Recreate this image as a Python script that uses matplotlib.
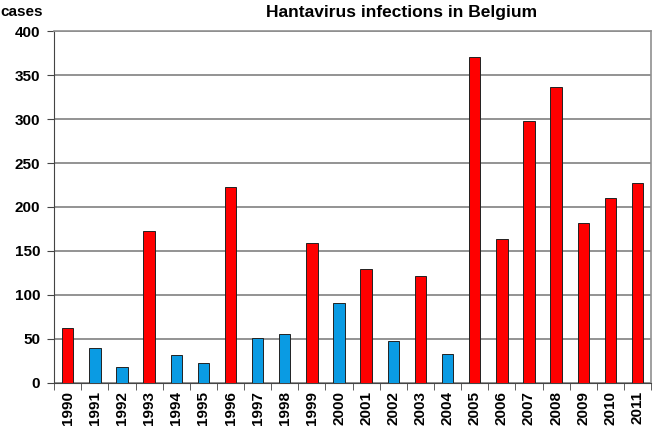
import numpy as np
import matplotlib.pyplot as plt

years = [str(y) for y in range(1990, 2012)]
cases = [62, 40, 18, 173, 32, 22, 223, 51, 55, 159, 91,
         129, 47, 122, 33, 371, 163, 298, 336, 182, 210, 227]
# red = outbreak years, blue = the others
outbreak = [1, 0, 0, 1, 0, 0, 1, 0, 0, 1, 0,
            1, 0, 1, 0, 1, 1, 1, 1, 1, 1, 1]

plt.rcParams['font.family'] = ['Liberation Sans', 'DejaVu Sans']
plt.rcParams['font.weight'] = 'bold'

fig = plt.figure(figsize=(6.53, 4.33), dpi=100)
ax = fig.add_axes([0.083, 0.116, 0.914, 0.812])

x = np.arange(len(years))
colors = ['#ff0000' if o else '#0a9be3' for o in outbreak]
ax.bar(x, cases, width=0.42, color=colors, edgecolor='#222222', linewidth=0.7, zorder=3)

ax.set_xlim(-0.5, len(years) - 0.5)
ax.set_ylim(0, 400)
ax.set_yticks(range(0, 401, 50))
ax.yaxis.grid(True, color='#808080', linewidth=1.2, zorder=0)

ax.set_xticks(x)
ax.set_xticklabels(years, rotation=90, fontsize=11, fontweight='bold')
ax.set_xticks(np.arange(-0.5, len(years), 1), minor=True)
ax.tick_params(axis='x', which='major', length=0, pad=6)
ax.tick_params(axis='x', which='minor', length=5, color='#444444', direction='out')
ax.tick_params(axis='y', length=5, color='#444444', labelsize=11, pad=5)
for lab in ax.get_yticklabels():
    lab.set_fontweight('bold')

for side in ['top', 'right']:
    ax.spines[side].set_color('#909090')
    ax.spines[side].set_linewidth(1.2)
ax.spines['left'].set_color('#444444')
ax.spines['bottom'].set_color('#444444')

fig.text(0.0, 0.988, 'cases', fontsize=11, fontweight='bold', va='top', ha='left')
fig.text(0.615, 0.972, 'Hantavirus infections in Belgium', fontsize=12.5,
         fontweight='bold', va='center', ha='center')

plt.savefig('out.png', dpi=100)
